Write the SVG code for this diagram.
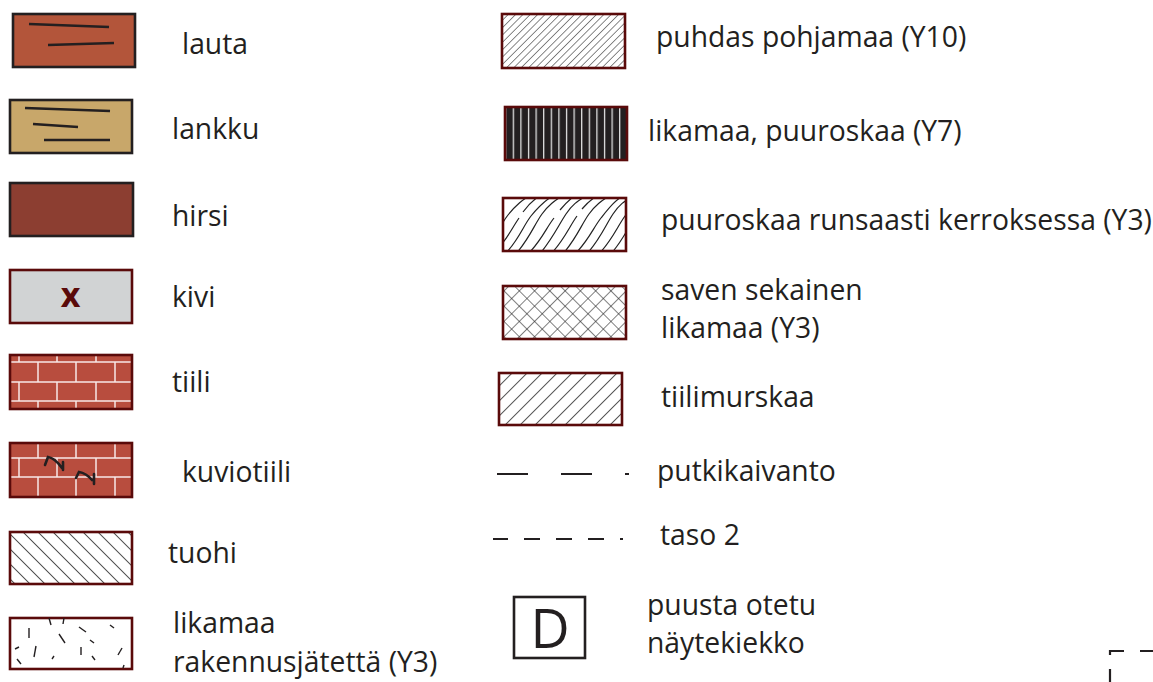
<svg xmlns="http://www.w3.org/2000/svg" width="1153" height="682" viewBox="0 0 1153 682">
<style>
.t{font-family:"Open Sans","Noto Sans",sans-serif;font-size:28.3px;fill:#231f20}
.dk{stroke:#231f20;stroke-width:2.6}
.rd{stroke:#5a0a0a;stroke-width:2.6}
.ln{stroke:#231f20;stroke-width:2.6;fill:none}
.mortar{stroke:#f8e8e8;stroke-width:1.5}
.dash{stroke:#231f20;stroke-width:1.4;fill:none}
</style>
<defs>
<pattern id="hFine" patternUnits="userSpaceOnUse" width="5.2" height="10" patternTransform="rotate(45)">
<line x1="0" y1="0" x2="0" y2="10" stroke="#3a3a3a" stroke-width="1.2"/>
</pattern>
<pattern id="hWide" patternUnits="userSpaceOnUse" width="10.6" height="10" patternTransform="rotate(45)">
<line x1="0" y1="0" x2="0" y2="10" stroke="#222" stroke-width="1.5"/>
</pattern>
<pattern id="hBack" patternUnits="userSpaceOnUse" width="10.6" height="10" patternTransform="rotate(-45)">
<line x1="0" y1="0" x2="0" y2="10" stroke="#222" stroke-width="1.5"/>
</pattern>
<pattern id="xh" patternUnits="userSpaceOnUse" width="10.8" height="10.8" patternTransform="rotate(45)">
<line x1="0" y1="0" x2="0" y2="10.8" stroke="#2a2a2a" stroke-width="1.2"/>
<line x1="0" y1="0" x2="10.8" y2="0" stroke="#2a2a2a" stroke-width="1.2"/>
</pattern>
<pattern id="vstripe" patternUnits="userSpaceOnUse" x="512.7" width="7.6" height="10">
<rect width="7.6" height="10" fill="#231f20"/>
<line x1="0.6" y1="0" x2="0.6" y2="10" stroke="#e8e8e8" stroke-width="1.3"/>
</pattern>
<clipPath id="cRun"><rect x="503" y="198" width="123" height="53"/></clipPath>
</defs>

<g id="lauta">
<rect x="13" y="14" width="122" height="53" fill="#b3553a" class="dk"/>
<line x1="29" y1="24" x2="109" y2="27" class="ln"/>
<line x1="48" y1="45" x2="114" y2="43" class="ln"/>
<text class="t" x="182" y="54">lauta</text>
</g>

<g id="lankku">
<rect x="10" y="100" width="122" height="53" fill="#c8a76a" class="dk"/>
<line x1="25" y1="108" x2="110" y2="111" class="ln"/>
<line x1="33" y1="124" x2="78" y2="127" class="ln"/>
<line x1="44" y1="140" x2="110" y2="140" class="ln"/>
<text class="t" x="172" y="139">lankku</text>
</g>

<g id="hirsi">
<rect x="10" y="183" width="123" height="53" fill="#8c3e31" class="dk"/>
<text class="t" x="172" y="226">hirsi</text>
</g>

<g id="kivi">
<rect x="10" y="270" width="122" height="53" fill="#d1d3d4" class="rd"/>
<text x="70.5" y="307" text-anchor="middle" font-family="Open Sans, sans-serif" font-weight="bold" font-size="34" fill="#5a0a0a">x</text>
<text class="t" x="172" y="307">kivi</text>
</g>

<g id="tiili">
<rect x="10" y="355" width="122" height="54" fill="#b84d3e"/>
<g class="mortar">
<line x1="10" y1="362" x2="132" y2="362"/>
<line x1="10" y1="382" x2="132" y2="382"/>
<line x1="10" y1="401" x2="132" y2="401"/>
<line x1="19" y1="355" x2="19" y2="362"/><line x1="57" y1="355" x2="57" y2="362"/><line x1="96" y1="355" x2="96" y2="362"/>
<line x1="38" y1="362" x2="38" y2="382"/><line x1="76" y1="362" x2="76" y2="382"/><line x1="115" y1="362" x2="115" y2="382"/>
<line x1="19" y1="382" x2="19" y2="401"/><line x1="57" y1="382" x2="57" y2="401"/><line x1="96" y1="382" x2="96" y2="401"/>
<line x1="38" y1="401" x2="38" y2="409"/><line x1="76" y1="401" x2="76" y2="409"/><line x1="115" y1="401" x2="115" y2="409"/>
</g>
<rect x="10" y="355" width="122" height="54" fill="none" class="rd"/>
<text class="t" x="172" y="392">tiili</text>
</g>

<g id="kuviotiili">
<rect x="10" y="443" width="122" height="54" fill="#b84d3e"/>
<g class="mortar">
<line x1="10" y1="458" x2="132" y2="458"/>
<line x1="10" y1="477" x2="132" y2="477"/>
<line x1="38" y1="443" x2="38" y2="458"/><line x1="76" y1="443" x2="76" y2="458"/><line x1="115" y1="443" x2="115" y2="458"/>
<line x1="19" y1="458" x2="19" y2="477"/><line x1="57" y1="458" x2="57" y2="477"/><line x1="96" y1="458" x2="96" y2="477"/>
<line x1="38" y1="477" x2="38" y2="497"/><line x1="76" y1="477" x2="76" y2="497"/><line x1="115" y1="477" x2="115" y2="497"/>
</g>
<path d="M45,465 L48,457 Q55,458 62,468 M63,462 L63,470 M76,478 L79,472 Q86,473 92,480 M94,474 L94,484" stroke="#231f20" stroke-width="2.6" fill="none" stroke-linecap="round"/>
<rect x="10" y="443" width="122" height="54" fill="none" class="rd"/>
<text class="t" x="182" y="482">kuviotiili</text>
</g>

<g id="tuohi">
<rect x="10" y="532" width="122" height="52" fill="url(#hBack)" class="rd"/>
<text class="t" x="168" y="563">tuohi</text>
</g>

<g id="likamaa-rakennus">
<rect x="10" y="618" width="122" height="51" fill="#fff" class="rd"/>
<g class="dash">
<line x1="49" y1="618" x2="51" y2="625"/>
<line x1="64" y1="618" x2="63" y2="624"/>
<line x1="29" y1="628" x2="29" y2="638"/>
<line x1="79" y1="627" x2="86" y2="632"/>
<line x1="110" y1="625" x2="114" y2="628"/>
<line x1="59" y1="634" x2="65" y2="643"/>
<line x1="90" y1="640" x2="94" y2="643"/>
<line x1="15" y1="649" x2="19" y2="647"/>
<line x1="36" y1="646" x2="34" y2="657"/>
<line x1="81" y1="647" x2="81" y2="655"/>
<line x1="118" y1="655" x2="122" y2="648"/>
<line x1="17" y1="659" x2="21" y2="664"/>
<line x1="52" y1="659" x2="54" y2="656"/>
<line x1="92" y1="656" x2="95" y2="660"/>
<line x1="123" y1="668" x2="124" y2="665"/>
</g>
<text class="t" x="173" y="633">likamaa</text>
<text class="t" x="173" y="672">rakennusjätettä (Y3)</text>
</g>

<g id="puhdas">
<rect x="502" y="14" width="123" height="54" fill="url(#hFine)" class="rd"/>
<text class="t" x="656" y="47">puhdas pohjamaa (Y10)</text>
</g>

<g id="likamaa-puuroskaa">
<rect x="505" y="107" width="122" height="53" fill="url(#vstripe)" class="rd"/>
<text class="t" x="648" y="141">likamaa, puuroskaa (Y7)</text>
</g>

<g id="puuroskaa-runsaasti">
<rect x="503" y="198" width="123" height="53" fill="#fff"/>
<g clip-path="url(#cRun)" stroke="#222" stroke-width="1.2" fill="none">
<path d="M480,256 C495,240 500,225 508,215 S522,200 535,192"/>
<path d="M492,256 C507,240 512,228 519,218 M523,212 C528,205 535,198 545,192"/>
<path d="M503,256 C518,242 523,226 531,216 S545,200 557,193"/>
<path d="M514,256 C529,240 534,225 542,214 S556,200 568,192"/>
<path d="M526,256 C541,242 546,228 554,218 M560,210 C565,204 570,198 580,192"/>
<path d="M538,256 C552,240 558,226 566,214 S580,200 592,192"/>
<path d="M549,256 C564,241 569,227 577,216 M582,209 C587,203 592,198 603,192"/>
<path d="M561,256 C576,240 581,225 589,214 S603,200 615,192"/>
<path d="M573,256 C588,242 593,228 601,218 S615,200 627,193"/>
<path d="M585,256 C600,240 605,226 613,214 S627,200 639,192"/>
<path d="M597,256 C612,241 617,227 625,216 S639,200 651,192"/>
<path d="M609,256 C624,240 629,225 637,214"/>
</g>
<rect x="503" y="198" width="123" height="53" fill="none" class="rd"/>
<text class="t" x="661" y="230">puuroskaa runsaasti kerroksessa (Y3)</text>
</g>

<g id="saven">
<rect x="503" y="286" width="123" height="53" fill="url(#xh)" class="rd"/>
<text class="t" x="661" y="300">saven sekainen</text>
<text class="t" x="661" y="338">likamaa (Y3)</text>
</g>

<g id="tiilimurskaa">
<rect x="499" y="373" width="123" height="52" fill="url(#hWide)" class="rd"/>
<text class="t" x="661" y="407">tiilimurskaa</text>
</g>

<g id="putkikaivanto">
<path d="M497,474 H528 M561,474 H592 M625,474 H629" stroke="#231f20" stroke-width="2.2"/>
<text class="t" x="657" y="481">putkikaivanto</text>
</g>

<g id="taso2">
<path d="M493,539 H508 M524,539 H540 M556,539 H572 M588,539 H604 M620,539 H623" stroke="#231f20" stroke-width="2.2"/>
<text class="t" x="660" y="545">taso 2</text>
</g>

<g id="naytekiekko">
<rect x="514" y="597" width="71" height="61" fill="#fff" class="dk"/>
<text x="550" y="648" text-anchor="middle" font-family="Open Sans, sans-serif" font-size="54" fill="#231f20">D</text>
<text class="t" x="647" y="615">puusta otetu</text>
<text class="t" x="647" y="653">näytekiekko</text>
</g>

<g id="corner">
<path d="M1110,655 V651 H1124 M1140,651 H1153 M1110,669 V682" stroke="#231f20" stroke-width="2.2" fill="none"/>
</g>
</svg>
